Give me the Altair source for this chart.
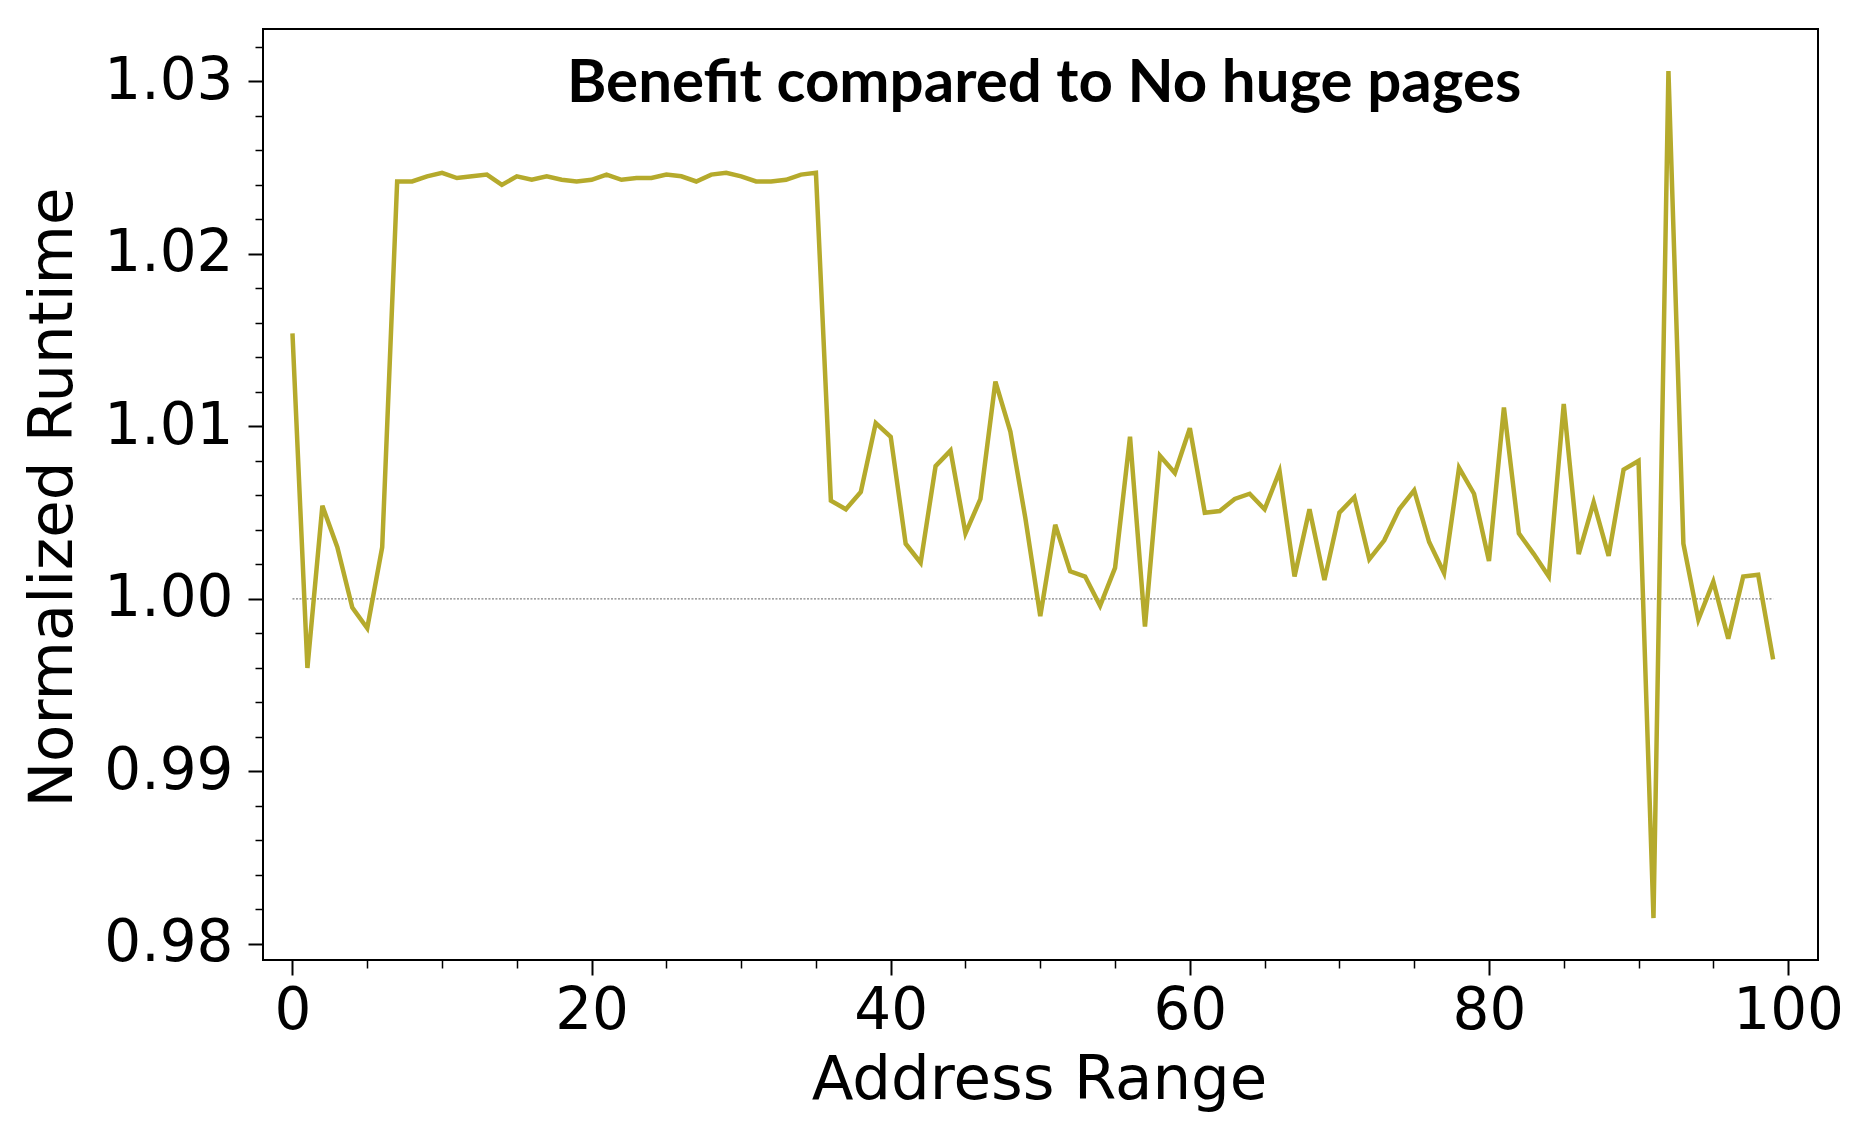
import altair as alt
import pandas as pd

# ---- data ----
address = list(range(100))
runtime = [
    1.0154, 0.9960, 1.0054, 1.0030, 0.9995, 0.9983, 1.0030, 1.0242, 1.0242, 1.0245,
    1.0247, 1.0244, 1.0245, 1.0246, 1.0240, 1.0245, 1.0243, 1.0245, 1.0243, 1.0242,
    1.0243, 1.0246, 1.0243, 1.0244, 1.0244, 1.0246, 1.0245, 1.0242, 1.0246, 1.0247,
    1.0245, 1.0242, 1.0242, 1.0243, 1.0246, 1.0247, 1.0057, 1.0052, 1.0062, 1.0102,
    1.0094, 1.0032, 1.0021, 1.0077, 1.0086, 1.0038, 1.0058, 1.0126, 1.0097, 1.0047,
    0.9990, 1.0043, 1.0016, 1.0013, 0.9996, 1.0018, 1.0094, 0.9984, 1.0083, 1.0073,
    1.0099, 1.0050, 1.0051, 1.0058, 1.0061, 1.0052, 1.0074, 1.0013, 1.0052, 1.0011,
    1.0050, 1.0059, 1.0023, 1.0034, 1.0052, 1.0063, 1.0033, 1.0015, 1.0076, 1.0061,
    1.0022, 1.0111, 1.0038, 1.0026, 1.0013, 1.0113, 1.0026, 1.0056, 1.0025, 1.0075,
    1.0080, 0.9815, 1.0306, 1.0032, 0.9988, 1.0010, 0.9977, 1.0013, 1.0014, 0.9965,
]

ref_x_start = [0]
ref_x_end = [99]
ref_y = [1.0]

title_text = ["Benefit compared to No huge pages"]
title_x = [50.26]
title_y = [1.0288]

x_domain = [-1.97, 102.0]
y_domain = [0.97907, 1.03304]
x_major = [0, 20, 40, 60, 80, 100]
x_minor = [5, 10, 15, 25, 30, 35, 45, 50, 55, 65, 70, 75, 85, 90, 95]
y_major = [0.98, 0.99, 1.00, 1.01, 1.02, 1.03]
y_minor = [0.982, 0.984, 0.986, 0.988, 0.992, 0.994, 0.996, 0.998,
           1.002, 1.004, 1.006, 1.008, 1.012, 1.014, 1.016, 1.018,
           1.022, 1.024, 1.026, 1.028, 1.032]

LINE_COLOR = "#b5aa2c"
W, H = 1555, 931

df = pd.DataFrame({"x": address, "y": runtime})
ref_df = pd.DataFrame({"x": ref_x_start, "x2": ref_x_end, "y": ref_y})
title_df = pd.DataFrame({"x": title_x, "y": title_y, "t": title_text})

xs = alt.Scale(domain=x_domain, nice=False, zero=False)
ys = alt.Scale(domain=y_domain, nice=False, zero=False)

x_major_axis = alt.Axis(
    orient="bottom", values=x_major, format="d", tickSize=15, tickWidth=2,
    tickColor="black", domain=False, grid=False, labelFont="DejaVu Sans",
    labelFontSize=58, labelColor="black", labelPadding=7, labelFlush=False,
    labelOverlap=False, title="Address Range", titleFont="DejaVu Sans",
    titleFontSize=61, titleFontWeight="normal", titleColor="black",
    titleX=776, titleY=120, titleAlign="center", titleBaseline="middle",
)
y_major_axis = alt.Axis(
    orient="left", values=y_major, format=".2f", tickSize=15, tickWidth=2,
    tickColor="black", domain=False, grid=False, labelFont="DejaVu Sans",
    labelFontSize=58, labelColor="black", labelPadding=15, labelFlush=False,
    labelOverlap=False, title="Normalized Runtime", titleFont="DejaVu Sans",
    titleFontSize=61, titleFontWeight="normal", titleColor="black",
    titleX=-210, titleY=468, titleAngle=270, titleAlign="center",
    titleBaseline="middle",
)
x_minor_axis = alt.Axis(
    orient="bottom", values=x_minor, tickSize=8, tickWidth=1.5,
    tickColor="black", domain=False, grid=False, labels=False, title=None,
)
y_minor_axis = alt.Axis(
    orient="left", values=y_minor, tickSize=8, tickWidth=1.5,
    tickColor="black", domain=False, grid=False, labels=False, title=None,
)

line = alt.Chart(df).mark_line(color=LINE_COLOR, strokeWidth=4.5).encode(
    x=alt.X("x:Q", scale=xs, axis=x_major_axis),
    y=alt.Y("y:Q", scale=ys, axis=y_major_axis),
)

ref = alt.Chart(ref_df).mark_rule(
    color="#808080", strokeWidth=1.2, strokeDash=[2, 1.5]
).encode(
    x=alt.X("x:Q", scale=xs, axis=x_minor_axis),
    x2="x2:Q",
    y=alt.Y("y:Q", scale=ys, axis=y_minor_axis),
)

title = alt.Chart(title_df).mark_text(
    font="Lato", fontSize=60, fontWeight="bold", color="black",
    align="center", baseline="alphabetic",
).encode(
    x=alt.X("x:Q", scale=xs, axis=None),
    y=alt.Y("y:Q", scale=ys, axis=None),
    text="t:N",
)

chart = (
    alt.layer(ref, line, title)
    .resolve_axis(x="independent", y="independent")
    .properties(
        width=W, height=H,
        autosize=alt.AutoSizeParams(type="none"),
        padding={"left": 255, "top": 21, "right": 31, "bottom": 165},
        background="white",
    )
    .configure_view(stroke="black", strokeWidth=2)
)

chart.save("out.html", embed_options={"renderer": "svg", "actions": False})
